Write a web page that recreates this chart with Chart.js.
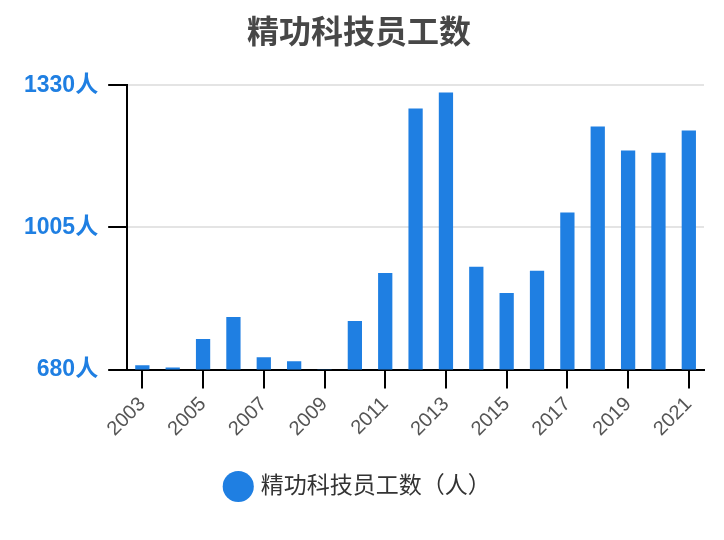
<!DOCTYPE html>
<html>
<head>
<meta charset="utf-8">
<script src="https://cdn.jsdelivr.net/npm/chart.js@4/dist/chart.umd.min.js"></script>
<style>
  html, body { margin: 0; padding: 0; background: #fff; }
  #wrap { width: 724px; height: 540px; }
</style>
</head>
<body>
<div id="wrap"><canvas id="staffChart"></canvas></div>
<script>
// data
const years = ['2003', '2004', '2005', '2006', '2007', '2008', '2009', '2010', '2011', '2012',
  '2013', '2014', '2015', '2016', '2017', '2018', '2019', '2020', '2021'];
const staff = [690, 685, 750, 800, 708, 699, 680, 791, 901, 1277,
  1314, 915, 855, 906, 1039, 1236, 1181, 1176, 1227];
const yTicks = [680, 1005, 1330];

const blue = '#1f7fe2';
const fontFamily = '"Liberation Sans", Arial, "Noto Sans CJK SC", sans-serif';

const ctx = document.getElementById('staffChart').getContext('2d');
new Chart(ctx, {
  type: 'bar',
  data: {
    labels: years,
    datasets: [{
      label: '精功科技员工数（人）',
      data: staff,
      backgroundColor: blue,
      borderWidth: 0,
      barPercentage: 0.47,
      categoryPercentage: 1
    }]
  },
  options: {
    responsive: true,
    maintainAspectRatio: false,
    animation: false,
    layout: { padding: { left: 14, right: 20, top: 8, bottom: 32 } },
    plugins: {
      title: {
        display: true,
        text: '精功科技员工数',
        color: '#474747',
        font: { family: fontFamily, size: 32, weight: 'bold' },
        padding: { top: 7, bottom: 32 }
      },
      legend: {
        position: 'bottom',
        labels: {
          usePointStyle: true,
          pointStyle: 'circle',
          boxWidth: 22,
          boxHeight: 22,
          color: '#333',
          padding: 30,
          font: { family: fontFamily, size: 23 }
        }
      },
      tooltip: { enabled: false }
    },
    scales: {
      x: {
        offset: true,
        grid: {
          offset: false,
          drawOnChartArea: false,
          tickColor: '#000',
          tickLength: 19,
          lineWidth: 2
        },
        border: { color: '#000', width: 2 },
        ticks: {
          autoSkip: false,
          maxRotation: 45,
          minRotation: 45,
          padding: 4,
          color: '#555',
          font: { family: fontFamily, size: 20 },
          callback: (val, i) => (i % 2 === 0 ? years[i] : null)
        }
      },
      y: {
        min: yTicks[0],
        max: yTicks[yTicks.length - 1],
        afterBuildTicks: (axis) => { axis.ticks = yTicks.map(v => ({ value: v })); },
        grid: {
          color: '#e4e4e4',
          tickColor: '#000',
          tickLength: 19,
          lineWidth: 2
        },
        border: { color: '#000', width: 2 },
        ticks: {
          color: blue,
          padding: 10,
          font: { family: fontFamily, size: 23, weight: 'bold' },
          callback: (v) => v + '人'
        }
      }
    }
  }
});
</script>
</body>
</html>
